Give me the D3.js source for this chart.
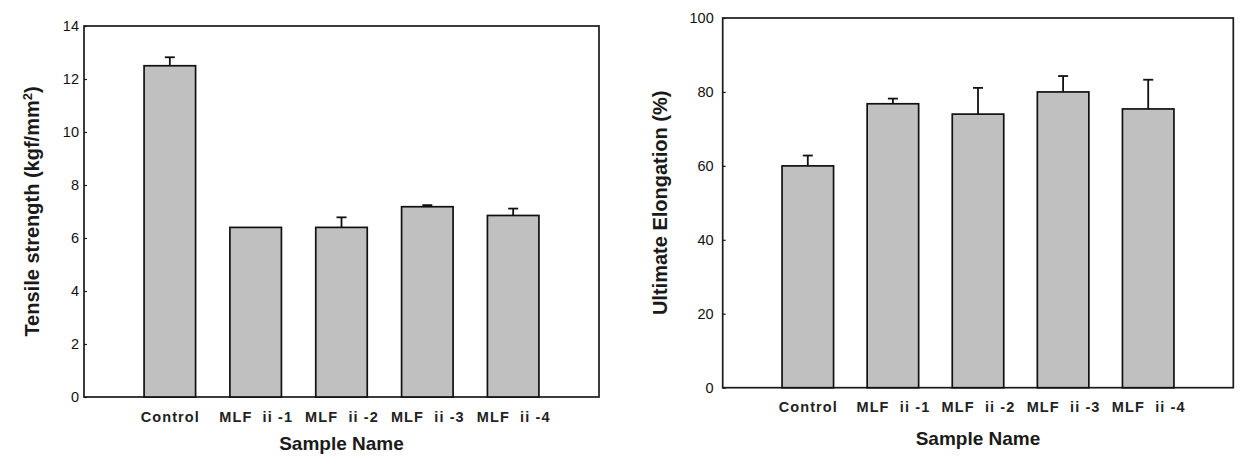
<!DOCTYPE html>
<html>
<head>
<meta charset="utf-8">
<script src="https://cdn.jsdelivr.net/npm/d3@7"></script>
<style>
  html, body { margin: 0; padding: 0; background: #fff; }
  svg { display: block; font-family: "Liberation Sans", Arial, sans-serif; }
</style>
</head>
<body>
<svg id="chart" width="1243" height="456"></svg>
<script>
// ---- data ----
const categories = ["Control", "MLF  ii -1", "MLF  ii -2", "MLF  ii -3", "MLF  ii -4"];
const tensileValues = [12.5, 6.4, 6.4, 7.18, 6.85];
const tensileErrors = [0.32, 0.0, 0.38, 0.06, 0.26];
const tensileTicks = [0, 2, 4, 6, 8, 10, 12, 14];
const elongationValues = [60.0, 76.8, 74.0, 80.0, 75.4];
const elongationErrors = [2.8, 1.4, 7.1, 4.3, 7.9];
const elongationTicks = [0, 20, 40, 60, 80, 100];

const svg = d3.select("#chart");

function drawPanel(opt) {
  const g = svg.append("g");
  const x = d3.scalePoint().domain(categories).range([opt.left, opt.right]).padding(1);
  const y = d3.scaleLinear().domain(opt.domain).range([opt.bottom, opt.top]);
  const barW = 51.5;

  // frame
  g.append("rect")
    .attr("x", opt.left).attr("y", opt.top)
    .attr("width", opt.right - opt.left).attr("height", opt.bottom - opt.top)
    .attr("fill", "none").attr("stroke", "#1a1a1a").attr("stroke-width", 1.7);

  // y axis (ticks inward)
  const yAxis = d3.axisLeft(y).tickValues(opt.ticks).tickSize(-3).tickPadding(opt.tickPad).tickFormat(d3.format("d"));
  const ya = g.append("g").attr("transform", `translate(${opt.left},0)`).call(yAxis);
  ya.select(".domain").remove();
  ya.selectAll(".tick line").attr("stroke", "#1a1a1a").attr("stroke-width", 1.2);
  ya.selectAll(".tick text").attr("font-size", 14.5).attr("fill", "#111")
    .attr("font-family", "'Liberation Sans', Arial, sans-serif");

  // error bars (upper only)
  const cap = 10;
  const eb = g.append("g").attr("stroke", "#111").attr("stroke-width", 1.8);
  opt.values.forEach((v, i) => {
    const cx = x(categories[i]);
    const yt = y(v + opt.errors[i]);
    if (opt.errors[i] > 0) {
      eb.append("line").attr("x1", cx).attr("x2", cx).attr("y1", y(v)).attr("y2", yt);
      eb.append("line").attr("x1", cx - cap / 2).attr("x2", cx + cap / 2).attr("y1", yt).attr("y2", yt);
    }
  });

  // bars
  g.append("g").selectAll("rect").data(opt.values).join("rect")
    .attr("x", (d, i) => x(categories[i]) - barW / 2)
    .attr("y", d => y(d))
    .attr("width", barW)
    .attr("height", d => y(0) - y(d))
    .attr("fill", "#c0c0c0")
    .attr("stroke", "#111")
    .attr("stroke-width", 1.7);

  // x axis labels
  const xAxis = d3.axisBottom(x).tickSize(0).tickPadding(0);
  const xa = g.append("g").attr("transform", `translate(0,${opt.bottom})`).call(xAxis);
  xa.select(".domain").remove();
  xa.selectAll(".tick text")
    .attr("y", opt.xLabelDy).attr("dy", 0)
    .attr("font-size", 14.5).attr("font-weight", "bold").attr("fill", "#222")
    .attr("letter-spacing", "1.1px")
    .style("white-space", "pre")
    .attr("font-family", "'Liberation Sans', Arial, sans-serif");

  // x title
  g.append("text")
    .attr("x", (opt.left + opt.right) / 2).attr("y", opt.xTitleY)
    .attr("text-anchor", "middle").attr("font-size", 19).attr("font-weight", "bold").attr("fill", "#1a1a1a")
    .text("Sample Name");

  // y title
  const yt = g.append("text")
    .attr("transform", `translate(${opt.yTitleX},${(opt.top + opt.bottom) / 2}) rotate(-90)`)
    .attr("text-anchor", "middle").attr("font-size", 20).attr("font-weight", "bold").attr("fill", "#1a1a1a");
  opt.yTitle(yt);
}

drawPanel({
  left: 84, right: 599, top: 26, bottom: 397,
  domain: [0, 14], ticks: tensileTicks,
  values: tensileValues, errors: tensileErrors,
  tickPad: 5, xLabelDy: 25, xTitleY: 450, yTitleX: 39,
  yTitle: t => {
    t.append("tspan").text("Tensile strength (kgf/mm");
    t.append("tspan").attr("baseline-shift", "super").attr("font-size", 13).text("2");
    t.append("tspan").text(")");
  }
});

drawPanel({
  left: 722.7, right: 1233.3, top: 18, bottom: 387.7,
  domain: [0, 100], ticks: elongationTicks,
  values: elongationValues, errors: elongationErrors,
  tickPad: 9, xLabelDy: 24, xTitleY: 445, yTitleX: 667,
  yTitle: t => t.text("Ultimate Elongation (%)")
});
</script>
</body>
</html>
